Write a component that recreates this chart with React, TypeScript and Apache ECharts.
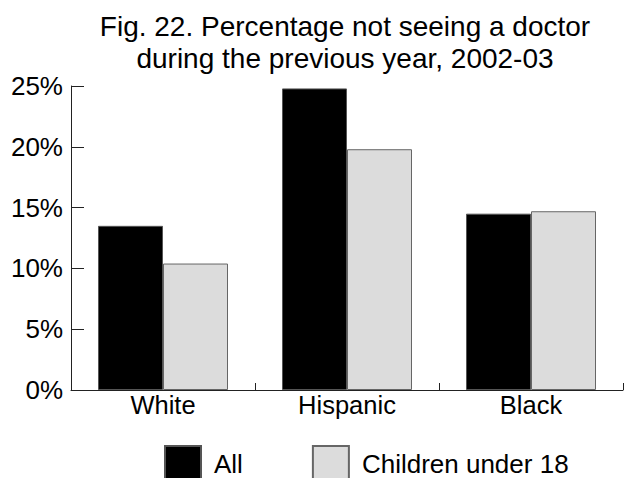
import React, { useEffect, useRef } from "react";
import * as echarts from "echarts";

const titleText = "Fig. 22. Percentage not seeing a doctor\nduring the previous year, 2002-03";
const categories = ["White", "Hispanic", "Black"];
const seriesNames = ["All", "Children under 18"];
const allValues = [13.5, 24.8, 14.5];
const childValues = [10.4, 19.8, 14.7];
const yTicks = [0, 5, 10, 15, 20, 25];

const FONT = "Liberation Sans, Arial, Helvetica, sans-serif";

export default function App() {
  const ref = useRef<HTMLDivElement>(null);
  useEffect(() => {
    document.body.style.margin = "0";
    if (!ref.current) return;
    const chart = echarts.init(ref.current, undefined, { renderer: "svg" });
    chart.setOption({
      animation: false,
      backgroundColor: "#ffffff",
      textStyle: { fontFamily: FONT },
      title: {
        text: titleText,
        left: 340,
        top: 5,
        textAlign: "center",
        textStyle: {
          fontFamily: FONT,
          fontSize: 28,
          fontWeight: "normal",
          color: "#000",
          lineHeight: 32,
        },
      },
      legend: {
        data: seriesNames,
        left: 164,
        top: 445,
        padding: 0,
        itemWidth: 36,
        itemHeight: 36,
        itemGap: 69,
        icon: "rect",
        textStyle: {
          fontFamily: FONT,
          fontSize: 26,
          color: "#000",
          padding: [0, 0, 0, 8],
        },
      },
      grid: { left: 71, right: 1, top: 86, bottom: 88, containLabel: false },
      xAxis: {
        type: "category",
        data: categories,
        axisLine: { lineStyle: { color: "#222", width: 1 } },
        axisTick: { show: true, inside: true, length: 7, lineStyle: { color: "#222" } },
        axisLabel: { fontFamily: FONT, fontSize: 25.5, color: "#000", margin: 2 },
      },
      yAxis: {
        type: "value",
        min: yTicks[0],
        max: yTicks[yTicks.length - 1],
        interval: 5,
        axisLine: { show: true, lineStyle: { color: "#222", width: 1 } },
        axisTick: { show: true, inside: true, length: 13, lineStyle: { color: "#222" } },
        splitLine: { show: false },
        axisLabel: {
          fontFamily: FONT,
          fontSize: 26,
          color: "#000",
          margin: 8,
          formatter: "{value}%",
        },
      },
      series: [
        {
          name: seriesNames[0],
          type: "bar",
          data: allValues,
          barWidth: 65,
          barGap: "0%",
          itemStyle: { color: "#000000", borderColor: "#555", borderWidth: 1 },
        },
        {
          name: seriesNames[1],
          type: "bar",
          data: childValues,
          barWidth: 65,
          itemStyle: { color: "#dcdcdc", borderColor: "#666", borderWidth: 1 },
        },
      ],
    });
    return () => chart.dispose();
  }, []);
  return <div ref={ref} style={{ width: 624, height: 478 }} />;
}
